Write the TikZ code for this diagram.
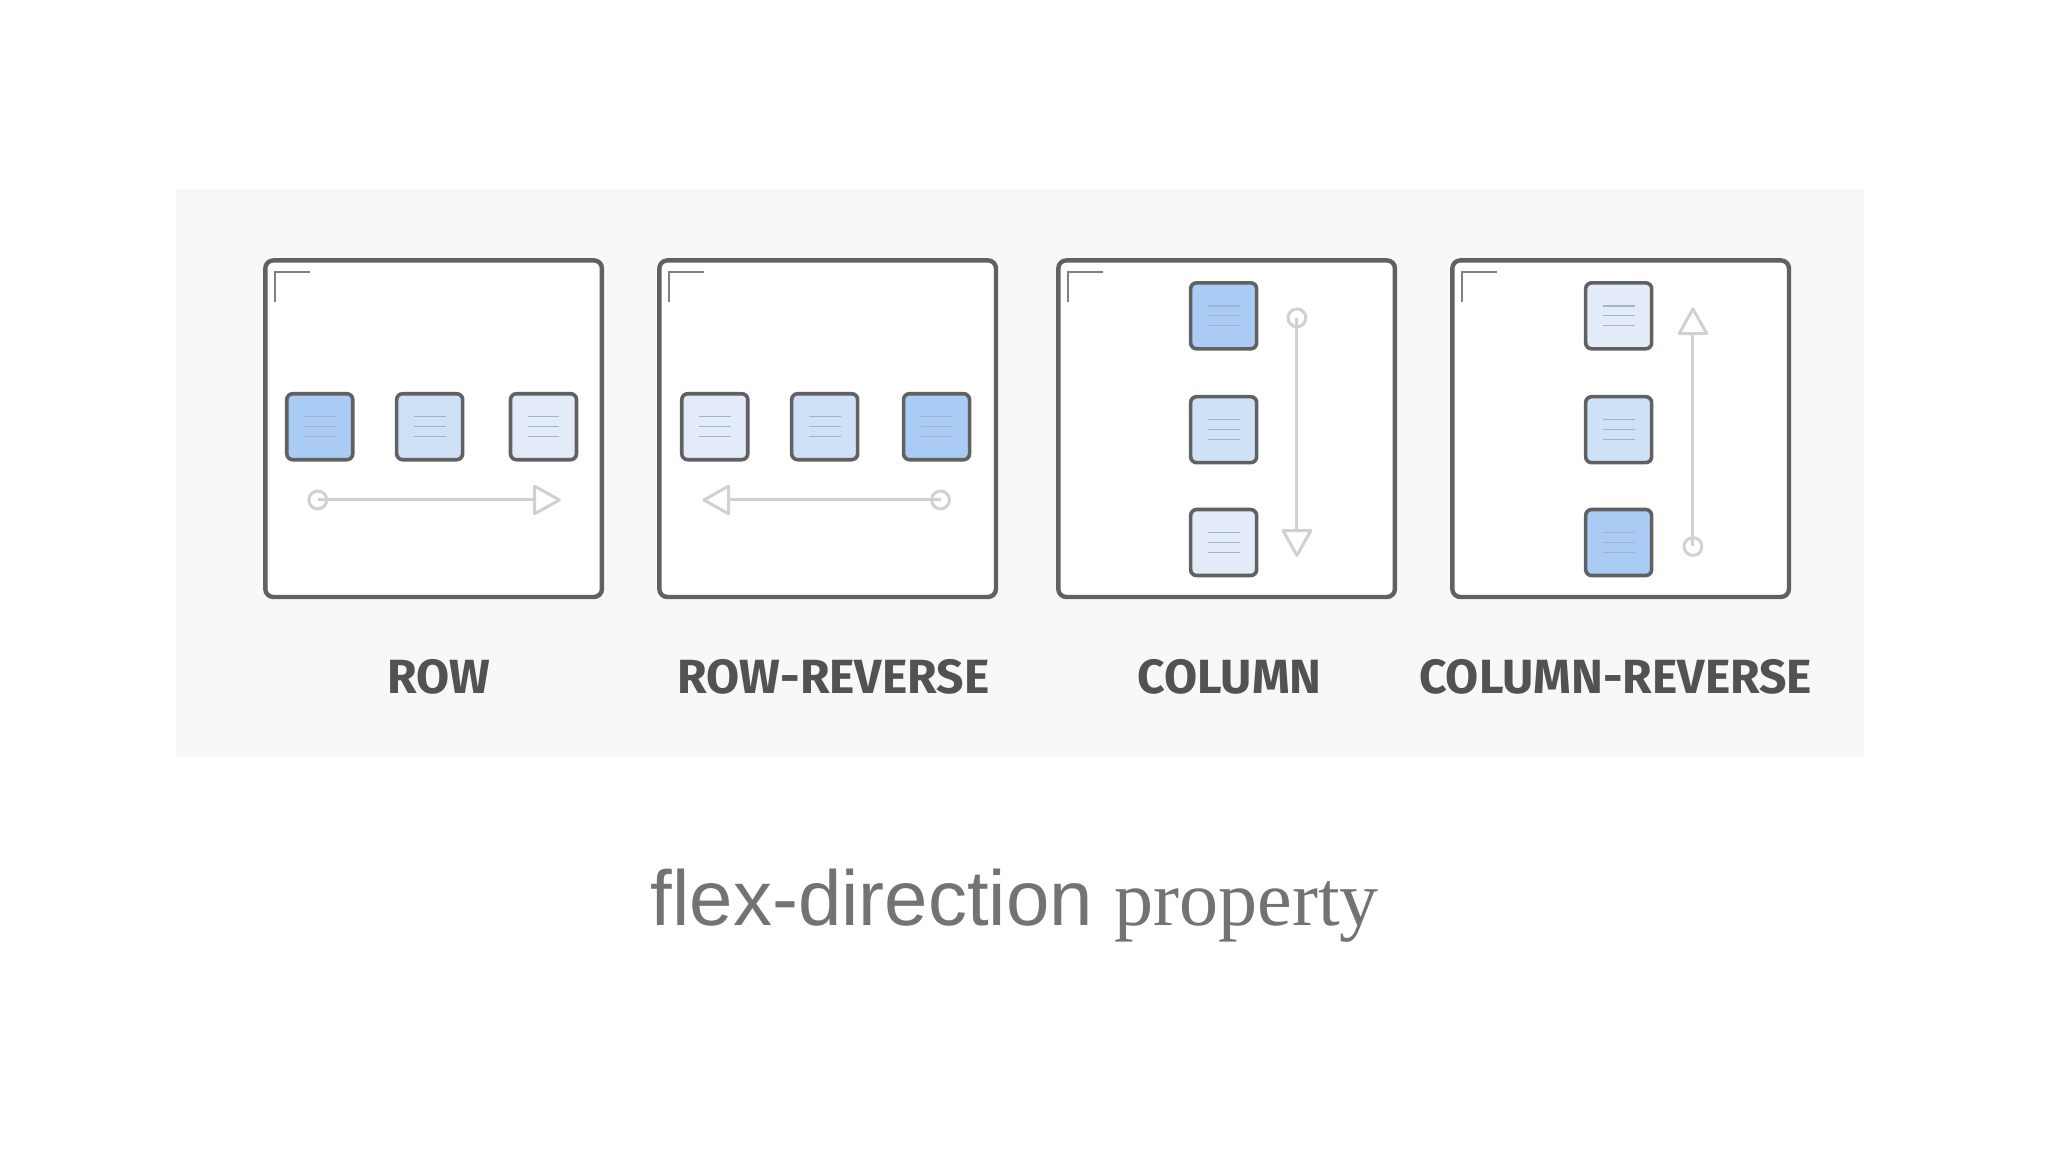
\documentclass[tikz,border=0pt]{standalone}
\usepackage{fontspec}
\setmainfont{Liberation Serif}
\setsansfont{Liberation Sans}
\newfontfamily\labfont{Fira Sans}
\begin{document}
\begin{tikzpicture}[x=0.5pt,y=-0.5pt,
  outer/.style={draw=black!62,line width=2.2pt,rounded corners=4pt,fill=white},
  item/.style={draw=black!62,line width=1.8pt,rounded corners=3pt,minimum size=33pt,inner sep=0pt},
  lab/.style={font=\labfont\bfseries\fontsize{24}{28}\selectfont,text=black!68},
  axis/.style={draw=black!18,line width=1.5pt},
  tip/.style={draw=black!18,line width=1.5pt,fill=white,line join=round}]
\definecolor{bDark}{HTML}{A9CBF4}
\definecolor{bMid}{HTML}{CFE1F7}
\definecolor{bLight}{HTML}{E2EBF7}
\definecolor{panel}{HTML}{F8F8FA}
\definecolor{lineC}{HTML}{9FB4CC}
\useasboundingbox (0,0) rectangle (2048,1152);
\begin{scope}[scale=0.99]
\fill[panel] (178,191) rectangle (1883,765);
% boxes
\foreach \n/\x in {b1/268,b2/666,b3/1069,b4/1467}{
  \draw[outer] (\x,263) rectangle ++(340,340);
  \draw[black!50,line width=0.8pt] (\x+10,305) -- (\x+10,275) -- (\x+45,275);
}
% squares
\newcommand\sq[3]{\node[item,fill=#3] (#1) at #2 {};
  \draw[lineC,line width=0.6pt] ([xshift=-8pt,yshift=5pt]#1.center) -- ++(16pt,0)
    ([xshift=-8pt]#1.center) -- ++(16pt,0) ([xshift=-8pt,yshift=-5pt]#1.center) -- ++(16pt,0);}
\sq{r1}{(323,431)}{bDark}\sq{r2}{(434,431)}{bMid}\sq{r3}{(549,431)}{bLight}
\sq{rr1}{(722,431)}{bLight}\sq{rr2}{(833,431)}{bMid}\sq{rr3}{(946,431)}{bDark}
\sq{c1}{(1236,319)}{bDark}\sq{c2}{(1236,434)}{bMid}\sq{c3}{(1236,548)}{bLight}
\sq{cr1}{(1635,319)}{bLight}\sq{cr2}{(1635,434)}{bMid}\sq{cr3}{(1635,548)}{bDark}
% arrows
\coordinate (a1s) at (321,505); \coordinate (a1e) at (540,505);
\draw[axis] (a1s) -- (a1e);
\draw[tip] (a1e) -- ++(0,-14) -- ++(25,14) -- ++(-25,14) -- cycle;
\draw[axis] (a1s) circle[radius=9];
\coordinate (a2s) at (950,505); \coordinate (a2e) at (736,505);
\draw[axis] (a2s) -- (a2e);
\draw[tip] (a2e) -- ++(0,-14) -- ++(-25,14) -- ++(25,14) -- cycle;
\draw[axis] (a2s) circle[radius=9];
\coordinate (a3s) at (1310,321); \coordinate (a3e) at (1310,536);
\draw[axis] (a3s) -- (a3e);
\draw[tip] (a3e) -- ++(-14,0) -- ++(14,25) -- ++(14,-25) -- cycle;
\draw[axis] (a3s) circle[radius=9];
\coordinate (a4s) at (1710,552); \coordinate (a4e) at (1710,337);
\draw[axis] (a4s) -- (a4e);
\draw[tip] (a4e) -- ++(-14,0) -- ++(14,-25) -- ++(14,25) -- cycle;
\draw[axis] (a4s) circle[radius=9];
% labels
\node[lab] (l1) at (443,684) {ROW};
\node[lab] (l2) at (842,684) {ROW-REVERSE};
\node[lab] (l3) at (1242,684) {COLUMN};
\node[lab] (l4) at (1632,684) {COLUMN-REVERSE};
\node[text=black!55] (cap) at (1025,915) {\fontsize{39}{44}\selectfont\sffamily flex-direction \rmfamily property};
\end{scope}
\end{tikzpicture}
\end{document}
